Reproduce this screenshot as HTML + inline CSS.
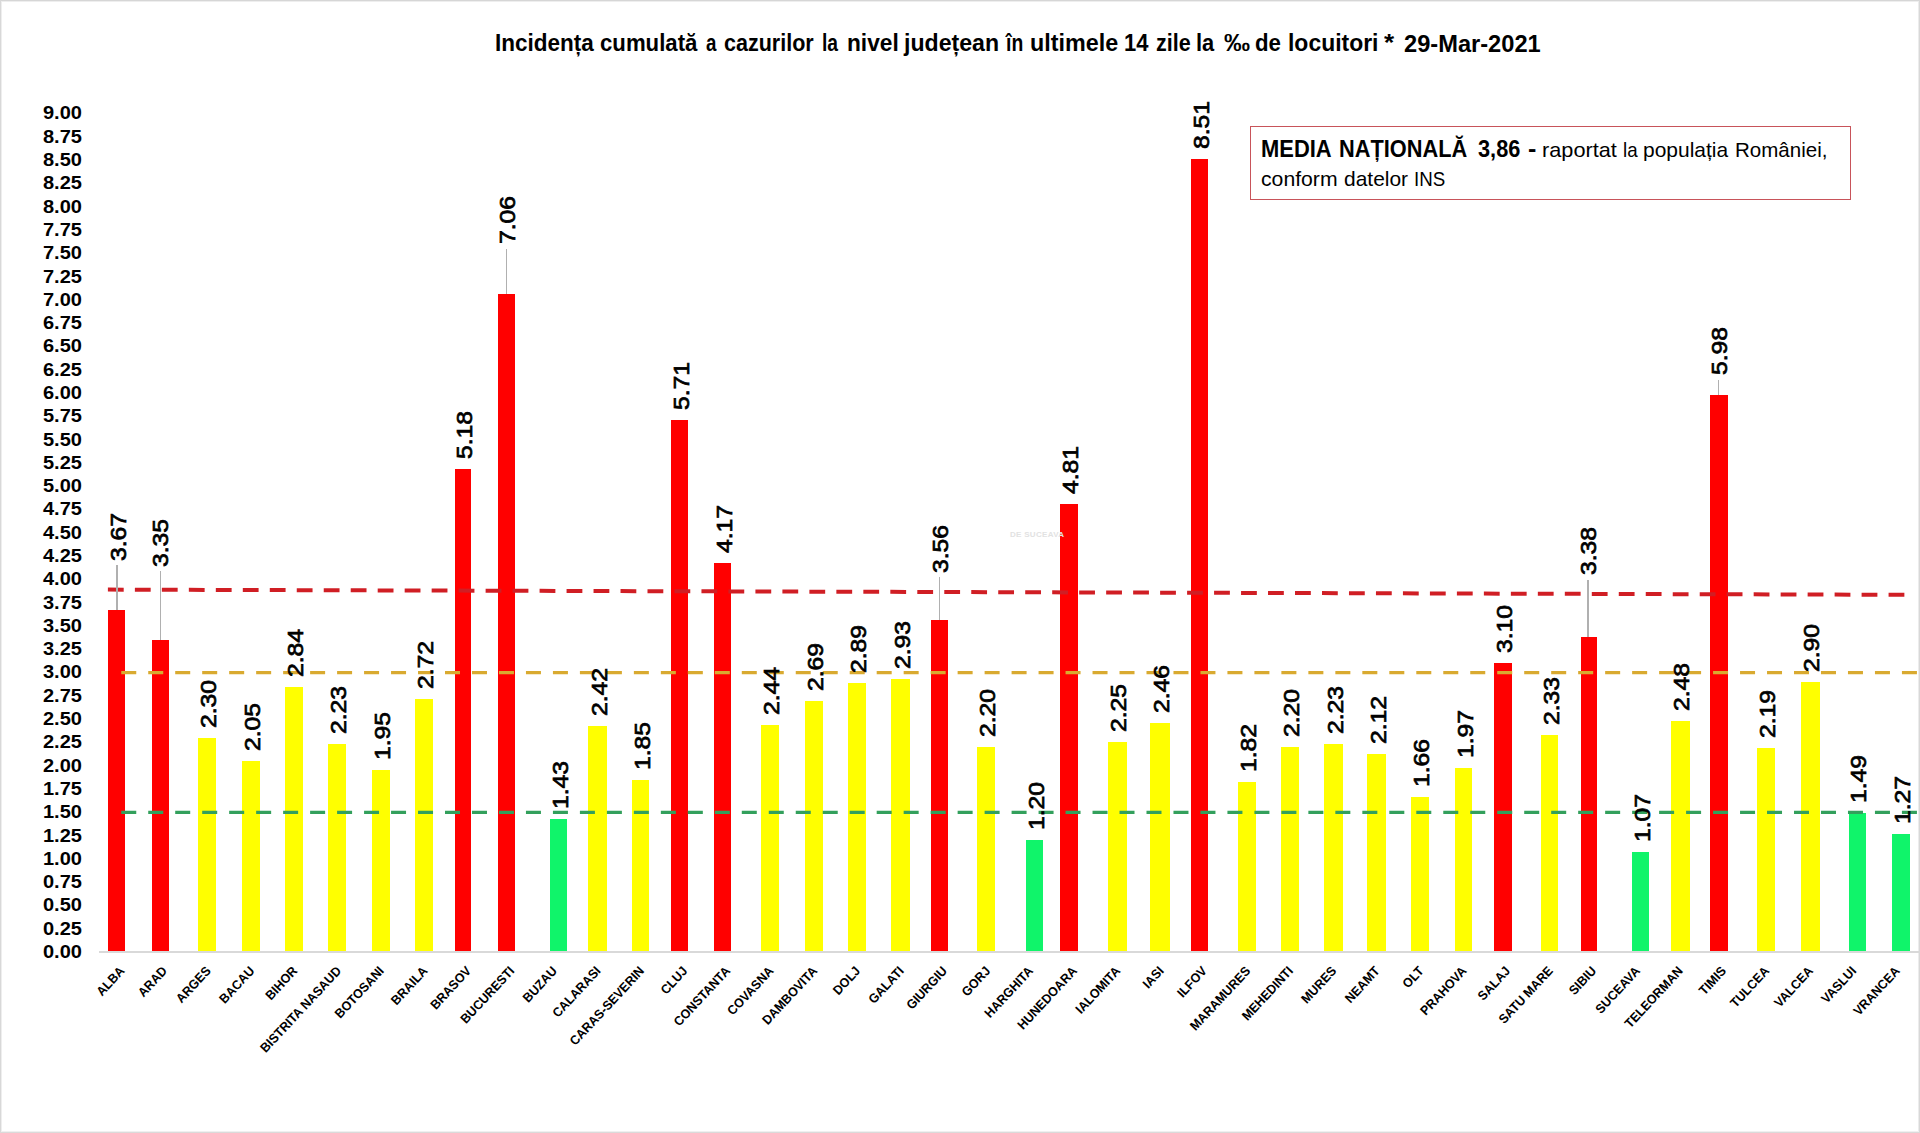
<!DOCTYPE html>
<html><head><meta charset="utf-8"><title>Incidenta cumulata</title>
<style>
html,body{margin:0;padding:0;background:#fff;}
body{width:1920px;height:1133px;position:relative;overflow:hidden;font-family:"Liberation Sans",sans-serif;color:#000;}
.a{position:absolute;}
.w{position:absolute;white-space:nowrap;transform-origin:0 0;}
.bar{position:absolute;}
.yl{position:absolute;left:0;width:0;height:0;}
.yl span{position:absolute;right:-82px;top:-10.5px;font-weight:bold;font-size:19px;line-height:21px;white-space:nowrap;transform:scaleX(1.055);transform-origin:right center;}
.dl{position:absolute;width:0;height:0;}
.dl span{position:absolute;left:0;top:0;font-size:22.5px;line-height:22.5px;white-space:nowrap;transform:translate(-50%,-50%) rotate(-90deg) scaleX(1.1);-webkit-text-stroke:0.7px #000;}
.cl{position:absolute;width:0;height:0;}
.cl span{position:absolute;right:0;top:-7.5px;height:15px;font-weight:bold;font-size:13px;line-height:15px;white-space:nowrap;transform:rotate(-47deg) scaleX(0.95);transform-origin:right center;}
.ll{position:absolute;width:1.5px;background:#b0b0b0;}
</style></head><body>

<div class="a" style="left:0;top:1px;width:1920px;height:1px;background:#eeeeee"></div>
<div class="a" style="left:1px;top:0;width:1px;height:1133px;background:#eeeeee"></div>
<div class="a" style="left:1918px;top:0;width:1px;height:1133px;background:#ececec"></div>
<div class="a" style="left:0;top:1131px;width:1920px;height:1px;background:#f0f0f0"></div>
<div class="a" style="left:0;top:0;width:1920px;height:1px;background:#d6d6d6"></div>
<div class="a" style="left:0;top:0;width:1px;height:1133px;background:#d8d8d8"></div>
<div class="a" style="left:1919px;top:0;width:1px;height:1133px;background:#d8d8d8"></div>
<div class="a" style="left:0;top:1132px;width:1920px;height:1px;background:#dadada"></div>
<div class="w" style="left:494.63px;top:31.90px;font-weight:bold;font-size:23px;line-height:23px;transform:scaleX(0.9782);">Incidența</div>
<div class="w" style="left:599.63px;top:31.90px;font-weight:bold;font-size:23px;line-height:23px;transform:scaleX(0.9643);">cumulată</div>
<div class="w" style="left:705.51px;top:31.90px;font-weight:bold;font-size:23px;line-height:23px;transform:scaleX(0.8145);">a</div>
<div class="w" style="left:723.95px;top:31.90px;font-weight:bold;font-size:23px;line-height:23px;transform:scaleX(0.9355);">cazurilor</div>
<div class="w" style="left:821.56px;top:31.90px;font-weight:bold;font-size:23px;line-height:23px;transform:scaleX(0.8375);">la</div>
<div class="w" style="left:846.52px;top:31.90px;font-weight:bold;font-size:23px;line-height:23px;transform:scaleX(0.9874);">nivel</div>
<div class="w" style="left:903.50px;top:31.90px;font-weight:bold;font-size:23px;line-height:23px;transform:scaleX(1.0051);">județean</div>
<div class="w" style="left:1005.54px;top:31.90px;font-weight:bold;font-size:23px;line-height:23px;transform:scaleX(0.8412);">în</div>
<div class="w" style="left:1029.68px;top:31.90px;font-weight:bold;font-size:23px;line-height:23px;transform:scaleX(1.0139);">ultimele</div>
<div class="w" style="left:1123.86px;top:31.90px;font-weight:bold;font-size:23px;line-height:23px;transform:scaleX(0.9547);">14</div>
<div class="w" style="left:1155.66px;top:31.90px;font-weight:bold;font-size:23px;line-height:23px;transform:scaleX(0.9357);">zile</div>
<div class="w" style="left:1196.28px;top:31.90px;font-weight:bold;font-size:23px;line-height:23px;transform:scaleX(0.9500);">la</div>
<div class="w" style="left:1223.75px;top:31.90px;font-weight:bold;font-size:23px;line-height:23px;transform:scaleX(1.1306);">‰</div>
<div class="w" style="left:1255.13px;top:31.90px;font-weight:bold;font-size:23px;line-height:23px;transform:scaleX(0.9664);">de</div>
<div class="w" style="left:1287.60px;top:31.90px;font-weight:bold;font-size:23px;line-height:23px;transform:scaleX(0.9974);">locuitori</div>
<div class="w" style="left:1384.00px;top:31.90px;font-weight:bold;font-size:23px;line-height:23px;transform:scaleX(1.1333);">*</div>
<div class="w" style="left:1403.68px;top:32.50px;font-weight:bold;font-size:23px;line-height:23px;transform:scaleX(1.0283);">29-Mar-2021</div>
<div class="yl" style="top:951.50px"><span>0.00</span></div>
<div class="yl" style="top:928.21px"><span>0.25</span></div>
<div class="yl" style="top:904.91px"><span>0.50</span></div>
<div class="yl" style="top:881.62px"><span>0.75</span></div>
<div class="yl" style="top:858.33px"><span>1.00</span></div>
<div class="yl" style="top:835.04px"><span>1.25</span></div>
<div class="yl" style="top:811.75px"><span>1.50</span></div>
<div class="yl" style="top:788.45px"><span>1.75</span></div>
<div class="yl" style="top:765.16px"><span>2.00</span></div>
<div class="yl" style="top:741.87px"><span>2.25</span></div>
<div class="yl" style="top:718.58px"><span>2.50</span></div>
<div class="yl" style="top:695.28px"><span>2.75</span></div>
<div class="yl" style="top:671.99px"><span>3.00</span></div>
<div class="yl" style="top:648.70px"><span>3.25</span></div>
<div class="yl" style="top:625.40px"><span>3.50</span></div>
<div class="yl" style="top:602.11px"><span>3.75</span></div>
<div class="yl" style="top:578.82px"><span>4.00</span></div>
<div class="yl" style="top:555.53px"><span>4.25</span></div>
<div class="yl" style="top:532.24px"><span>4.50</span></div>
<div class="yl" style="top:508.94px"><span>4.75</span></div>
<div class="yl" style="top:485.65px"><span>5.00</span></div>
<div class="yl" style="top:462.36px"><span>5.25</span></div>
<div class="yl" style="top:439.06px"><span>5.50</span></div>
<div class="yl" style="top:415.77px"><span>5.75</span></div>
<div class="yl" style="top:392.48px"><span>6.00</span></div>
<div class="yl" style="top:369.19px"><span>6.25</span></div>
<div class="yl" style="top:345.89px"><span>6.50</span></div>
<div class="yl" style="top:322.60px"><span>6.75</span></div>
<div class="yl" style="top:299.31px"><span>7.00</span></div>
<div class="yl" style="top:276.02px"><span>7.25</span></div>
<div class="yl" style="top:252.73px"><span>7.50</span></div>
<div class="yl" style="top:229.43px"><span>7.75</span></div>
<div class="yl" style="top:206.14px"><span>8.00</span></div>
<div class="yl" style="top:182.85px"><span>8.25</span></div>
<div class="yl" style="top:159.55px"><span>8.50</span></div>
<div class="yl" style="top:136.26px"><span>8.75</span></div>
<div class="yl" style="top:112.97px"><span>9.00</span></div>
<div class="bar" style="left:108.30px;top:609.96px;width:16.90px;height:342.54px;background:#ff0000"></div>
<div class="bar" style="left:152.10px;top:639.78px;width:16.65px;height:312.72px;background:#ff0000"></div>
<div class="bar" style="left:197.50px;top:737.64px;width:18.50px;height:214.86px;background:#ffff00"></div>
<div class="bar" style="left:242.10px;top:760.94px;width:17.90px;height:191.56px;background:#ffff00"></div>
<div class="bar" style="left:285.40px;top:687.31px;width:17.50px;height:265.19px;background:#ffff00"></div>
<div class="bar" style="left:327.90px;top:744.16px;width:18.35px;height:208.34px;background:#ffff00"></div>
<div class="bar" style="left:371.70px;top:770.26px;width:18.30px;height:182.24px;background:#ffff00"></div>
<div class="bar" style="left:415.40px;top:698.50px;width:17.90px;height:254.00px;background:#ffff00"></div>
<div class="bar" style="left:454.60px;top:469.22px;width:16.65px;height:483.28px;background:#ff0000"></div>
<div class="bar" style="left:497.90px;top:294.01px;width:17.50px;height:658.49px;background:#ff0000"></div>
<div class="bar" style="left:550.40px;top:818.72px;width:17.10px;height:133.78px;background:#10f46a"></div>
<div class="bar" style="left:587.90px;top:726.46px;width:19.20px;height:226.04px;background:#ffff00"></div>
<div class="bar" style="left:631.70px;top:779.58px;width:17.50px;height:172.92px;background:#ffff00"></div>
<div class="bar" style="left:671.25px;top:419.83px;width:16.65px;height:532.67px;background:#ff0000"></div>
<div class="bar" style="left:714.20px;top:563.36px;width:17.05px;height:389.14px;background:#ff0000"></div>
<div class="bar" style="left:760.80px;top:724.59px;width:17.95px;height:227.91px;background:#ffff00"></div>
<div class="bar" style="left:805.00px;top:701.29px;width:17.50px;height:251.21px;background:#ffff00"></div>
<div class="bar" style="left:847.90px;top:682.65px;width:18.35px;height:269.85px;background:#ffff00"></div>
<div class="bar" style="left:891.25px;top:678.92px;width:18.75px;height:273.58px;background:#ffff00"></div>
<div class="bar" style="left:930.80px;top:620.21px;width:17.10px;height:332.29px;background:#ff0000"></div>
<div class="bar" style="left:976.70px;top:746.96px;width:18.70px;height:205.54px;background:#ffff00"></div>
<div class="bar" style="left:1025.80px;top:840.16px;width:17.50px;height:112.34px;background:#10f46a"></div>
<div class="bar" style="left:1060.40px;top:503.71px;width:17.90px;height:448.79px;background:#ff0000"></div>
<div class="bar" style="left:1107.90px;top:742.30px;width:18.80px;height:210.20px;background:#ffff00"></div>
<div class="bar" style="left:1150.40px;top:722.73px;width:19.20px;height:229.77px;background:#ffff00"></div>
<div class="bar" style="left:1191.25px;top:158.87px;width:16.65px;height:793.63px;background:#ff0000"></div>
<div class="bar" style="left:1237.90px;top:782.38px;width:17.90px;height:170.12px;background:#ffff00"></div>
<div class="bar" style="left:1280.80px;top:746.96px;width:17.95px;height:205.54px;background:#ffff00"></div>
<div class="bar" style="left:1324.20px;top:744.16px;width:19.10px;height:208.34px;background:#ffff00"></div>
<div class="bar" style="left:1367.10px;top:754.42px;width:18.70px;height:198.08px;background:#ffff00"></div>
<div class="bar" style="left:1410.80px;top:797.29px;width:17.95px;height:155.21px;background:#ffff00"></div>
<div class="bar" style="left:1454.60px;top:768.40px;width:17.90px;height:184.10px;background:#ffff00"></div>
<div class="bar" style="left:1493.75px;top:663.08px;width:17.95px;height:289.42px;background:#ff0000"></div>
<div class="bar" style="left:1541.25px;top:734.84px;width:17.05px;height:217.66px;background:#ffff00"></div>
<div class="bar" style="left:1580.80px;top:636.98px;width:16.70px;height:315.52px;background:#ff0000"></div>
<div class="bar" style="left:1632.10px;top:852.28px;width:17.10px;height:100.22px;background:#10f46a"></div>
<div class="bar" style="left:1670.80px;top:720.86px;width:18.80px;height:231.64px;background:#ffff00"></div>
<div class="bar" style="left:1710.00px;top:394.66px;width:17.90px;height:557.84px;background:#ff0000"></div>
<div class="bar" style="left:1756.90px;top:747.89px;width:17.80px;height:204.61px;background:#ffff00"></div>
<div class="bar" style="left:1800.90px;top:681.72px;width:18.80px;height:270.78px;background:#ffff00"></div>
<div class="bar" style="left:1848.75px;top:813.13px;width:16.85px;height:139.37px;background:#10f46a"></div>
<div class="bar" style="left:1892.30px;top:833.64px;width:17.40px;height:118.86px;background:#10f46a"></div>
<div class="a" style="left:99px;top:951px;width:1821px;height:2px;background:#d9d9d9"></div>
<svg class="a" style="left:0;top:0" width="1920" height="1133" viewBox="0 0 1920 1133">
<line x1="107.9" y1="589.6" x2="1905" y2="594.8" stroke="#d01e24" stroke-width="4" stroke-dasharray="15.8 11.18"/>
<line x1="121.25" y1="672.6" x2="1917" y2="672.6" stroke="#d9aa30" stroke-width="3.3" stroke-dasharray="15 11.98"/>
<line x1="121.25" y1="812.3" x2="1917" y2="812.3" stroke="#33a05c" stroke-width="3.3" stroke-dasharray="15 11.98"/>
</svg>
<div class="ll" style="left:116.15px;top:565.30px;height:44.66px"></div>
<div class="dl" style="left:118.50px;top:536.70px"><span>3.67</span></div>
<div class="ll" style="left:159.55px;top:571.30px;height:68.48px"></div>
<div class="dl" style="left:161.25px;top:542.50px"><span>3.35</span></div>
<div class="dl" style="left:208.85px;top:703.64px"><span>2.30</span></div>
<div class="dl" style="left:253.15px;top:726.94px"><span>2.05</span></div>
<div class="dl" style="left:296.25px;top:653.31px"><span>2.84</span></div>
<div class="dl" style="left:339.18px;top:710.16px"><span>2.23</span></div>
<div class="dl" style="left:382.95px;top:736.26px"><span>1.95</span></div>
<div class="dl" style="left:426.45px;top:664.50px"><span>2.72</span></div>
<div class="dl" style="left:465.03px;top:435.22px"><span>5.18</span></div>
<div class="ll" style="left:505.85px;top:248.80px;height:45.21px"></div>
<div class="dl" style="left:507.70px;top:220.00px"><span>7.06</span></div>
<div class="dl" style="left:561.05px;top:784.72px"><span>1.43</span></div>
<div class="dl" style="left:599.60px;top:692.46px"><span>2.42</span></div>
<div class="dl" style="left:642.55px;top:745.58px"><span>1.85</span></div>
<div class="dl" style="left:681.68px;top:385.83px"><span>5.71</span></div>
<div class="dl" style="left:724.83px;top:529.36px"><span>4.17</span></div>
<div class="dl" style="left:771.88px;top:690.59px"><span>2.44</span></div>
<div class="dl" style="left:815.85px;top:667.29px"><span>2.69</span></div>
<div class="dl" style="left:859.18px;top:648.65px"><span>2.89</span></div>
<div class="dl" style="left:902.73px;top:644.92px"><span>2.93</span></div>
<div class="ll" style="left:938.85px;top:577.10px;height:43.11px"></div>
<div class="dl" style="left:941.00px;top:548.70px"><span>3.56</span></div>
<div class="dl" style="left:988.15px;top:712.96px"><span>2.20</span></div>
<div class="dl" style="left:1036.65px;top:806.16px"><span>1.20</span></div>
<div class="dl" style="left:1071.45px;top:469.71px"><span>4.81</span></div>
<div class="dl" style="left:1119.40px;top:708.30px"><span>2.25</span></div>
<div class="dl" style="left:1162.10px;top:688.73px"><span>2.46</span></div>
<div class="dl" style="left:1201.67px;top:124.87px"><span>8.51</span></div>
<div class="dl" style="left:1248.95px;top:748.38px"><span>1.82</span></div>
<div class="dl" style="left:1291.88px;top:712.96px"><span>2.20</span></div>
<div class="dl" style="left:1335.85px;top:710.16px"><span>2.23</span></div>
<div class="dl" style="left:1378.55px;top:720.42px"><span>2.12</span></div>
<div class="dl" style="left:1421.88px;top:763.29px"><span>1.66</span></div>
<div class="dl" style="left:1465.65px;top:734.40px"><span>1.97</span></div>
<div class="dl" style="left:1504.82px;top:629.08px"><span>3.10</span></div>
<div class="dl" style="left:1551.88px;top:700.84px"><span>2.33</span></div>
<div class="ll" style="left:1587.35px;top:579.80px;height:57.18px"></div>
<div class="dl" style="left:1588.70px;top:551.00px"><span>3.38</span></div>
<div class="dl" style="left:1642.75px;top:818.28px"><span>1.07</span></div>
<div class="dl" style="left:1682.30px;top:686.86px"><span>2.48</span></div>
<div class="ll" style="left:1717.65px;top:379.70px;height:14.96px"></div>
<div class="dl" style="left:1720.00px;top:350.60px"><span>5.98</span></div>
<div class="dl" style="left:1767.90px;top:713.89px"><span>2.19</span></div>
<div class="dl" style="left:1812.40px;top:647.72px"><span>2.90</span></div>
<div class="dl" style="left:1859.27px;top:779.13px"><span>1.49</span></div>
<div class="dl" style="left:1903.10px;top:799.64px"><span>1.27</span></div>
<div class="cl" style="left:121.75px;top:968.3px"><span>ALBA</span></div>
<div class="cl" style="left:165.05px;top:968.3px"><span>ARAD</span></div>
<div class="cl" style="left:208.35px;top:968.3px"><span>ARGES</span></div>
<div class="cl" style="left:251.65px;top:968.3px"><span>BACAU</span></div>
<div class="cl" style="left:294.95px;top:968.3px"><span>BIHOR</span></div>
<div class="cl" style="left:338.25px;top:968.3px"><span>BISTRITA NASAUD</span></div>
<div class="cl" style="left:381.55px;top:968.3px"><span>BOTOSANI</span></div>
<div class="cl" style="left:424.85px;top:968.3px"><span>BRAILA</span></div>
<div class="cl" style="left:468.15px;top:968.3px"><span>BRASOV</span></div>
<div class="cl" style="left:511.45px;top:968.3px"><span>BUCURESTI</span></div>
<div class="cl" style="left:554.75px;top:968.3px"><span>BUZAU</span></div>
<div class="cl" style="left:598.05px;top:968.3px"><span>CALARASI</span></div>
<div class="cl" style="left:641.35px;top:968.3px"><span>CARAS-SEVERIN</span></div>
<div class="cl" style="left:684.65px;top:968.3px"><span>CLUJ</span></div>
<div class="cl" style="left:727.95px;top:968.3px"><span>CONSTANTA</span></div>
<div class="cl" style="left:771.25px;top:968.3px"><span>COVASNA</span></div>
<div class="cl" style="left:814.55px;top:968.3px"><span>DAMBOVITA</span></div>
<div class="cl" style="left:857.85px;top:968.3px"><span>DOLJ</span></div>
<div class="cl" style="left:901.15px;top:968.3px"><span>GALATI</span></div>
<div class="cl" style="left:944.45px;top:968.3px"><span>GIURGIU</span></div>
<div class="cl" style="left:987.75px;top:968.3px"><span>GORJ</span></div>
<div class="cl" style="left:1031.05px;top:968.3px"><span>HARGHITA</span></div>
<div class="cl" style="left:1074.35px;top:968.3px"><span>HUNEDOARA</span></div>
<div class="cl" style="left:1117.65px;top:968.3px"><span>IALOMITA</span></div>
<div class="cl" style="left:1160.95px;top:968.3px"><span>IASI</span></div>
<div class="cl" style="left:1204.25px;top:968.3px"><span>ILFOV</span></div>
<div class="cl" style="left:1247.55px;top:968.3px"><span>MARAMURES</span></div>
<div class="cl" style="left:1290.85px;top:968.3px"><span>MEHEDINTI</span></div>
<div class="cl" style="left:1334.15px;top:968.3px"><span>MURES</span></div>
<div class="cl" style="left:1377.45px;top:968.3px"><span>NEAMT</span></div>
<div class="cl" style="left:1420.75px;top:968.3px"><span>OLT</span></div>
<div class="cl" style="left:1464.05px;top:968.3px"><span>PRAHOVA</span></div>
<div class="cl" style="left:1507.35px;top:968.3px"><span>SALAJ</span></div>
<div class="cl" style="left:1550.65px;top:968.3px"><span>SATU MARE</span></div>
<div class="cl" style="left:1593.95px;top:968.3px"><span>SIBIU</span></div>
<div class="cl" style="left:1637.25px;top:968.3px"><span>SUCEAVA</span></div>
<div class="cl" style="left:1680.55px;top:968.3px"><span>TELEORMAN</span></div>
<div class="cl" style="left:1723.85px;top:968.3px"><span>TIMIS</span></div>
<div class="cl" style="left:1767.15px;top:968.3px"><span>TULCEA</span></div>
<div class="cl" style="left:1810.45px;top:968.3px"><span>VALCEA</span></div>
<div class="cl" style="left:1853.75px;top:968.3px"><span>VASLUI</span></div>
<div class="cl" style="left:1897.05px;top:968.3px"><span>VRANCEA</span></div>
<div class="a" style="left:1249.5px;top:125.8px;width:599px;height:72.4px;border:1.5px solid #c8545a;"></div>
<div class="w" style="left:1261.07px;top:137.70px;font-weight:bold;font-size:23px;line-height:23px;transform:scaleX(0.9535);">MEDIA</div>
<div class="w" style="left:1338.98px;top:137.70px;font-weight:bold;font-size:23px;line-height:23px;transform:scaleX(0.9466);">NAȚIONALĂ</div>
<div class="w" style="left:1478.03px;top:137.60px;font-weight:bold;font-size:23px;line-height:23px;transform:scaleX(0.9454);">3,86</div>
<div class="w" style="left:1527.88px;top:137.60px;font-weight:bold;font-size:23px;line-height:23px;transform:scaleX(1.0917);">-</div>
<div class="w" style="left:1541.56px;top:139.39px;font-weight:normal;font-size:21px;line-height:21px;transform:scaleX(1.0340);">raportat</div>
<div class="w" style="left:1622.50px;top:139.39px;font-weight:normal;font-size:21px;line-height:21px;transform:scaleX(0.8921);">la</div>
<div class="w" style="left:1643.40px;top:139.39px;font-weight:normal;font-size:21px;line-height:21px;transform:scaleX(0.9981);">populația</div>
<div class="w" style="left:1734.74px;top:139.39px;font-weight:normal;font-size:21px;line-height:21px;transform:scaleX(0.9780);">României,</div>
<div class="w" style="left:1260.99px;top:167.89px;font-weight:normal;font-size:21px;line-height:21px;transform:scaleX(1.0093);">conform</div>
<div class="w" style="left:1343.80px;top:167.89px;font-weight:normal;font-size:21px;line-height:21px;transform:scaleX(0.9981);">datelor</div>
<div class="w" style="left:1414.21px;top:167.89px;font-weight:normal;font-size:21px;line-height:21px;transform:scaleX(0.8913);">INS</div>
<div class="a" style="left:1010px;top:530px;font-size:8px;font-weight:bold;color:#e2e2e2;white-space:nowrap;letter-spacing:0.3px">DE SUCEAVA</div>
</body></html>
